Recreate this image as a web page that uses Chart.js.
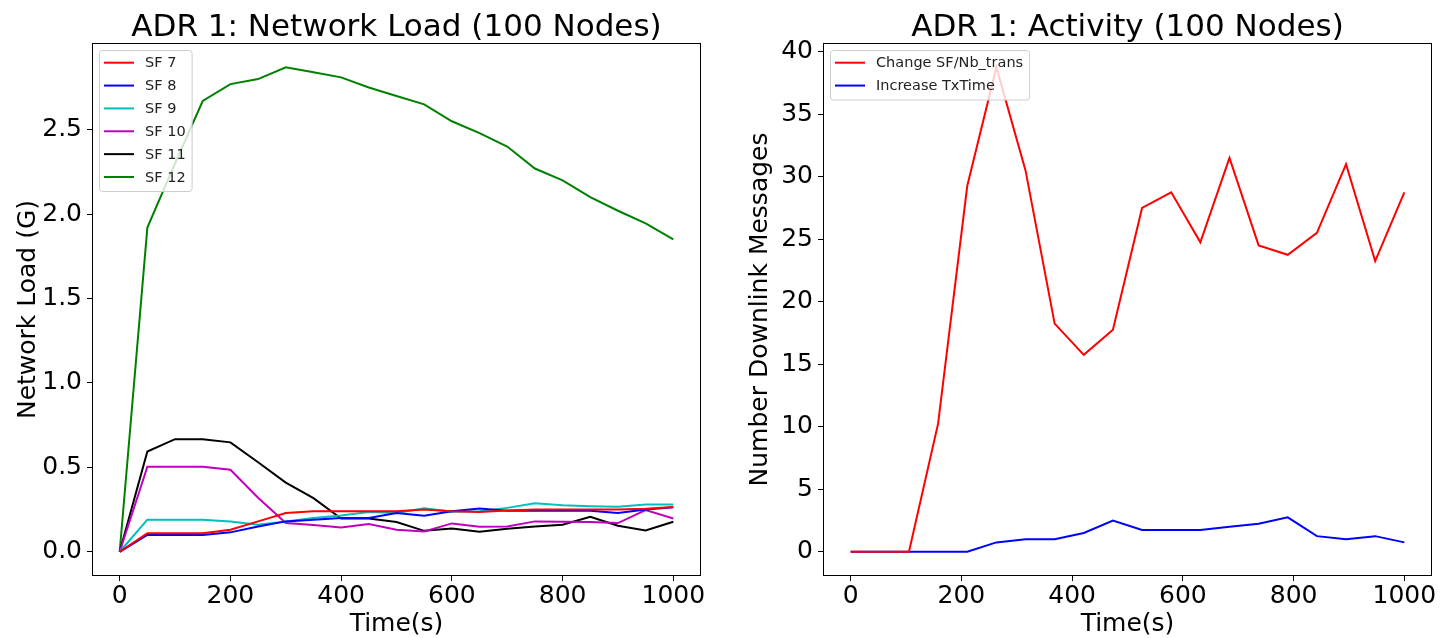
<!DOCTYPE html>
<html lang="en">
<head>
<meta charset="UTF-8">
<title>ADR 1: Network Load / Activity</title>
<script src="https://cdn.jsdelivr.net/npm/chart.js"></script>
<style>
    body { margin: 0; background: #fff; }
    .wrap { position: relative; width: 1442px; height: 638px; }
    canvas { position: absolute; top: 0; }
    #loadChart { left: 0; }
    #activityChart { left: 721px; }
</style>
</head>
<body>
<div class="wrap">
    <canvas id="loadChart" width="721" height="638"></canvas>
    <canvas id="activityChart" width="721" height="638"></canvas>
</div>
<script>
// left chart: network load per SF
const loadTime = [0, 50, 100, 150, 200, 250, 300, 350, 400, 450, 500, 550, 600, 650, 700, 750, 800, 850, 900, 950, 1000];
const sf7  = [0, 0.11, 0.11, 0.11, 0.13, 0.18, 0.23, 0.24, 0.24, 0.24, 0.24, 0.25, 0.24, 0.235, 0.245, 0.25, 0.25, 0.25, 0.25, 0.255, 0.265];
const sf8  = [0, 0.10, 0.10, 0.10, 0.115, 0.15, 0.18, 0.19, 0.20, 0.20, 0.23, 0.213, 0.24, 0.257, 0.243, 0.243, 0.243, 0.243, 0.23, 0.25, 0.263];
const sf9  = [0, 0.19, 0.19, 0.19, 0.18, 0.16, 0.18, 0.20, 0.215, 0.235, 0.23, 0.257, 0.237, 0.24, 0.26, 0.288, 0.276, 0.27, 0.267, 0.28, 0.28];
const sf10 = [0, 0.504, 0.504, 0.504, 0.486, 0.32, 0.17, 0.158, 0.144, 0.164, 0.13, 0.12, 0.168, 0.148, 0.15, 0.18, 0.178, 0.176, 0.17, 0.247, 0.197];
const sf11 = [0, 0.594, 0.667, 0.667, 0.648, 0.53, 0.41, 0.318, 0.197, 0.197, 0.176, 0.124, 0.138, 0.118, 0.136, 0.15, 0.16, 0.207, 0.154, 0.126, 0.178];
const sf12 = [0, 1.92, 2.30, 2.67, 2.77, 2.80, 2.87, 2.84, 2.81, 2.75, 2.70, 2.65, 2.55, 2.48, 2.40, 2.27, 2.20, 2.10, 2.02, 1.945, 1.85];

// right chart: downlink messages
const activityTime = [0, 52.63, 105.26, 157.89, 210.53, 263.16, 315.79, 368.42, 421.05, 473.68, 526.32, 578.95, 631.58, 684.21, 736.84, 789.47, 842.11, 894.74, 947.37, 1000];
const changeSf   = [0, 0, 0, 10.25, 29.25, 38.75, 30.5, 18.25, 15.75, 17.75, 27.5, 28.75, 24.75, 31.5, 24.5, 23.75, 25.5, 31, 23.25, 28.75];
const increaseTx = [0, 0, 0, 0, 0, 0.75, 1, 1, 1.5, 2.5, 1.75, 1.75, 1.75, 2, 2.25, 2.75, 1.25, 1, 1.25, 0.75];

const timeTicks = [0, 200, 400, 600, 800, 1000];
const loadTicks = [0, 0.5, 1, 1.5, 2, 2.5];
const activityTicks = [0, 5, 10, 15, 20, 25, 30, 35, 40];

Chart.defaults.font.family = '"DejaVu Sans", sans-serif';
Chart.defaults.color = '#000';

function pts(xs, ys) {
    return xs.map((x, i) => ({ x: x, y: ys[i] }));
}

function line(label, xs, ys, color) {
    return { label: label, data: pts(xs, ys), borderColor: color, backgroundColor: color,
             borderWidth: 2, pointRadius: 0, tension: 0, fill: false };
}

// frame, title and matplotlib-like legend drawn over the plot
const frame = {
    id: 'frame',
    afterDatasetsDraw(chart, args, opts) {
        const { ctx, chartArea: a } = chart;
        ctx.save();
        ctx.strokeStyle = '#000';
        ctx.lineWidth = 1;
        ctx.strokeRect(a.left + 0.5, a.top + 0.5, a.right - a.left - 1, a.bottom - a.top - 1);

        ctx.fillStyle = '#000';
        ctx.font = '31px "DejaVu Sans"';
        ctx.textAlign = 'center';
        ctx.textBaseline = 'alphabetic';
        ctx.fillText(opts.title, (a.left + a.right) / 2, 36);

        // legend
        const items = chart.data.datasets;
        ctx.font = '14.5px "DejaVu Sans"';
        const textW = Math.max(...items.map(d => ctx.measureText(d.label).width));
        const x0 = a.left + 7, y0 = a.top + 7;
        const w = 46 + textW + 6;
        const h = 26.7 + (items.length - 1) * 22.86;
        ctx.beginPath();
        ctx.roundRect(x0 + 0.5, y0 + 0.5, w, h, 3);
        ctx.fillStyle = 'rgba(255,255,255,0.8)';
        ctx.fill();
        ctx.strokeStyle = '#cccccc';
        ctx.stroke();
        ctx.textAlign = 'left';
        ctx.textBaseline = 'middle';
        items.forEach((d, i) => {
            const cy = y0 + 12.7 + i * 22.86;
            ctx.strokeStyle = d.borderColor;
            ctx.lineWidth = 2;
            ctx.beginPath();
            ctx.moveTo(x0 + 5, cy);
            ctx.lineTo(x0 + 35, cy);
            ctx.stroke();
            ctx.fillStyle = '#222';
            ctx.fillText(d.label, x0 + 46, cy + 1);
        });
        ctx.restore();
    }
};

function makeChart(id, datasets, o) {
    return new Chart(document.getElementById(id), {
        type: 'line',
        data: { datasets: datasets },
        plugins: [frame],
        options: {
            responsive: false,
            animation: false,
            layout: { padding: { left: 0, top: 43, right: o.padRight, bottom: 0 } },
            plugins: {
                legend: { display: false },
                tooltip: { enabled: false },
                frame: { title: o.title }
            },
            scales: {
                x: {
                    type: 'linear', min: -50, max: 1050,
                    afterBuildTicks: s => { s.ticks = timeTicks.map(v => ({ value: v })); },
                    afterFit: s => { s.height = 62; },
                    grid: { drawOnChartArea: false, tickLength: 5, tickColor: '#000' },
                    border: { display: false },
                    ticks: { font: { size: 25, lineHeight: 1 }, padding: 3, maxRotation: 0, callback: v => String(v) },
                    title: { display: true, text: 'Time(s)', font: { size: 25, lineHeight: 1.1 }, padding: { top: 0, bottom: 0 } }
                },
                y: {
                    type: 'linear', min: o.yMin, max: o.yMax,
                    afterBuildTicks: s => { s.ticks = o.yTicks.map(v => ({ value: v })); },
                    afterFit: s => { s.width = o.yWidth; },
                    grid: { drawOnChartArea: false, tickLength: 5, tickColor: '#000' },
                    border: { display: false },
                    ticks: { font: { size: 25 }, padding: 5, callback: o.fmt },
                    title: { display: true, text: o.yLabel, font: { size: 25 }, padding: { top: o.yTitlePad, bottom: 0 } }
                }
            }
        }
    });
}

makeChart('loadChart', [
    line('SF 7', loadTime, sf7, '#ff0000'),
    line('SF 8', loadTime, sf8, '#0000ff'),
    line('SF 9', loadTime, sf9, '#00bfbf'),
    line('SF 10', loadTime, sf10, '#bf00bf'),
    line('SF 11', loadTime, sf11, '#000000'),
    line('SF 12', loadTime, sf12, '#008000')
], {
    title: 'ADR 1: Network Load (100 Nodes)',
    yMin: -0.1435, yMax: 3.0135, yTicks: loadTicks,
    fmt: v => v.toFixed(1),
    yLabel: 'Network Load (G)', yWidth: 92, yTitlePad: 13, padRight: 20
});

makeChart('activityChart', [
    line('Change SF/Nb_trans', activityTime, changeSf, '#ff0000'),
    line('Increase TxTime', activityTime, increaseTx, '#0000ff')
], {
    title: 'ADR 1: Activity (100 Nodes)',
    yMin: -1.9375, yMax: 40.6875, yTicks: activityTicks,
    fmt: v => String(v),
    yLabel: 'Number Downlink Messages', yWidth: 102, yTitlePad: 24, padRight: 10
});
</script>
</body>
</html>
